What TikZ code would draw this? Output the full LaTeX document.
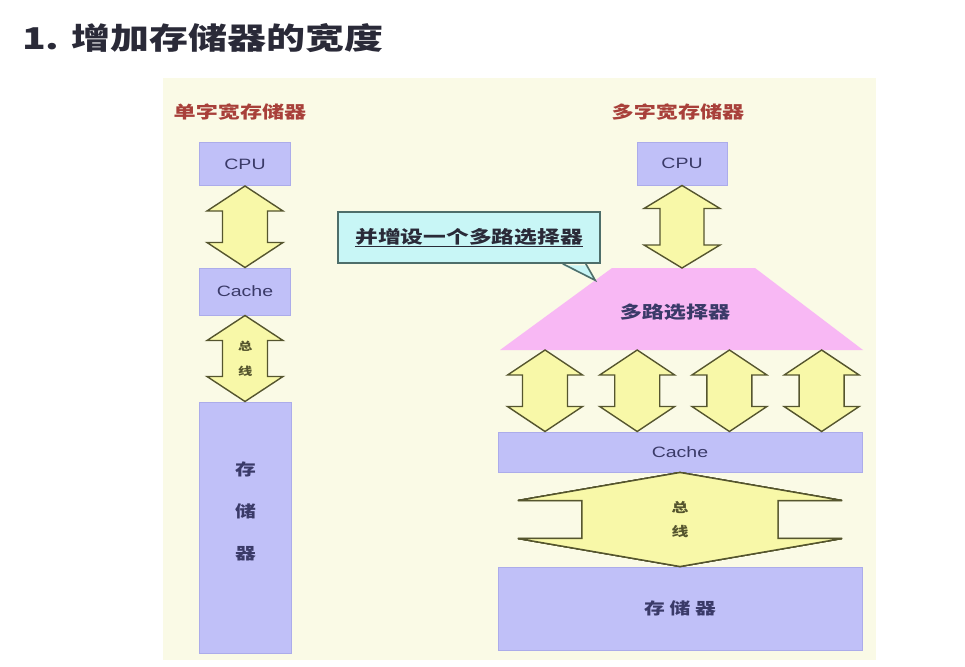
\documentclass[tikz,border=0pt]{standalone}
\usepackage{fontspec}
\setmainfont{Liberation Sans}[FakeStretch=1.3]
\newfontfamily\cjk{Noto Sans CJK SC}[FakeStretch=1.3]
\usetikzlibrary{calc}
\definecolor{panel}{HTML}{FAFAE6}
\definecolor{boxfill}{HTML}{C0C0F8}
\definecolor{boxedge}{HTML}{ACACEA}
\definecolor{boxtext}{HTML}{3A3A68}
\definecolor{busfill}{HTML}{F8F8A8}
\definecolor{busedge}{HTML}{55552E}
\definecolor{muxfill}{HTML}{F8B8F4}
\definecolor{notefill}{HTML}{C8F6F6}
\definecolor{noteedge}{HTML}{4E6E6A}
\definecolor{labelred}{HTML}{A8403A}
\definecolor{titletext}{HTML}{2A2A38}
\tikzset{
  membox/.style={rectangle, draw=boxedge, line width=1pt, fill=boxfill, text=boxtext,
    inner sep=0pt, font=\fontsize{15}{17}\selectfont},
  bus/.style={draw=busedge, fill=busfill, line width=1.4pt, line join=miter},
  buslabel/.style={align=center, text=busedge, inner sep=0pt},
  muxtext/.style={inner sep=0pt, text=boxtext, font=\cjk\bfseries\fontsize{17}{20}\selectfont},
  note/.style={rectangle, fill=notefill, draw=noteedge,
    line width=1.6pt, minimum width=262pt, minimum height=51pt, inner sep=0pt,
    text=titletext, font=\cjk\bfseries\fontsize{17.5}{20}\selectfont},
  sidelabel/.style={text=labelred, inner sep=0pt, font=\cjk\bfseries\fontsize{17}{20}\selectfont}
}
% double-headed vertical bus: top anchor, bottom anchor, shaft half, head half, head length
\newcommand{\busarrow}[5]{%
  \draw[bus] let \p1=#1, \p2=#2 in
    (\x1,\y1) -- (\x1+#4pt,\y1-#5pt) -- (\x1+#3pt,\y1-#5pt)
    -- (\x1+#3pt,\y2+#5pt) -- (\x1+#4pt,\y2+#5pt) -- (\x1,\y2)
    -- (\x1-#4pt,\y2+#5pt) -- (\x1-#3pt,\y2+#5pt)
    -- (\x1-#3pt,\y1-#5pt) -- (\x1-#4pt,\y1-#5pt) -- cycle;}
\begin{document}
\begin{tikzpicture}[x=1pt, y=-1pt]
  \useasboundingbox (0,0) rectangle (965,666);
  \fill[white] (0,0) rectangle (965,666);
  \fill[panel] (163,78) rectangle (876,660);
  % Title
  \node[anchor=west, inner sep=0pt, text=titletext, font=\cjk\bfseries\fontsize{30}{32}\selectfont]
    (title) at (22,38) {1. 增加存储器的宽度};
  % Single word width
  \node[sidelabel] (singleL) at (240,112) {单字宽存储器};
  \node[membox, minimum width=91pt, minimum height=43pt] (cpuL) at (245,164) {CPU};
  \node[membox, minimum width=91pt, minimum height=47pt] (cacheL) at (245,291.5) {Cache};
  \node[membox, minimum width=92pt, minimum height=251pt] (storeL) at (245.5,527.5) {};
  \node[buslabel, font=\cjk\bfseries\fontsize{16}{42}\selectfont, text=boxtext]
    (storeLtext) at ($(storeL.center)+(0,-16)$) {存\\储\\器};
  \busarrow{(cpuL.south)}{(cacheL.north)}{22.5}{38}{25}
  \busarrow{(cacheL.south)}{(storeL.north)}{22.5}{38}{25}
  \node[buslabel, font=\cjk\bfseries\fontsize{11}{25}\selectfont]
    (busLtext) at ($(cacheL.south)!.5!(storeL.north)$) {总\\线};
  % Multi word width
  \node[sidelabel] (multiL) at (678,112) {多字宽存储器};
  \node[membox, minimum width=90pt, minimum height=43pt] (cpuR) at (682,163.5) {CPU};
  \coordinate (muxTL) at (612,268);
  \coordinate (muxTR) at (755,268);
  \coordinate (muxBR) at (863,350);
  \coordinate (muxBL) at (500,350);
  \fill[muxfill] (muxTL) -- (muxTR) -- (muxBR) -- (muxBL) -- cycle;
  \node[muxtext] (mux) at (675,312) {多路选择器};
  \node[membox, minimum width=364pt, minimum height=40pt] (cacheR) at (680,452) {Cache};
  \node[membox, minimum width=364pt, minimum height=83pt,
    font=\cjk\bfseries\fontsize{16}{18}\selectfont] (storeR) at (680,608.5) {存\ 储\ 器};
  \busarrow{(cpuR.south)}{($(muxTL)!.5!(muxTR)$)}{22}{38}{23}
  \foreach \f in {0.124, 0.378, 0.632, 0.886}
    \busarrow{($(muxBL)!\f!(muxBR)$)}{(cacheR.north)}{22.5}{37.5}{25}
  \busarrow{(cacheR.south)}{(storeR.north)}{98}{162}{28}
  \node[buslabel, font=\cjk\bfseries\fontsize{13}{24}\selectfont]
    (busRtext) at ($(cacheR.south)!.5!(storeR.north)$) {总\\线};
  % Callout
  \node[note] (muxnote) at (469,237.5) {\underline{并增设一个多路选择器}};
  \coordinate (notetip) at ($(muxTL)!0.15!(muxBL)$);
  \fill[notefill] ($(muxnote.south east)+(-38,1.5)$) -- (notetip) -- ($(muxnote.south east)+(-15,1.5)$) -- cycle;
  \draw[noteedge, line width=1.6pt, line join=miter]
    ($(muxnote.south east)+(-38,0)$) -- (notetip) -- ($(muxnote.south east)+(-15,0)$);
\end{tikzpicture}
\end{document}
